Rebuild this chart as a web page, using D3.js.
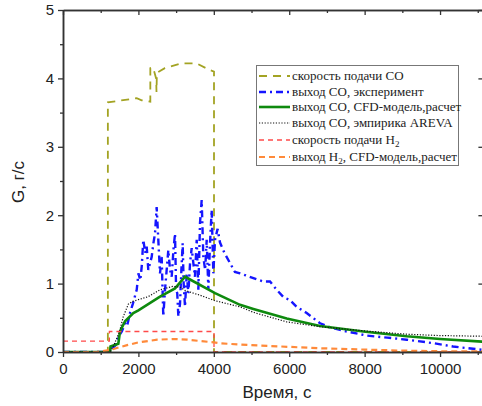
<!DOCTYPE html>
<html>
<head>
<meta charset="utf-8">
<script src="https://cdn.jsdelivr.net/npm/d3@7"></script>
<style>
  body { margin: 0; background: #fff; }
  svg { display: block; }
</style>
</head>
<body>
<div id="chart"></div>
<script>
// series, [time s, G g/s]
var coFeed = [[0,0],[1190,0],[1190,3.65],[1955,3.71],[2088,3.68],[2316,3.66],[2316,4.15],[2390,4.16],
  [2470,4.0],[2480,3.8],[2490,4.08],[2700,4.15],[3148,4.22],[3546,4.22],[3899,4.12],[4005,4.1],[4005,0],[11150,0]];
var coExp = [[0,0],[1250,0],[1300,0.05],[1400,0.1],[1467,0.22],[1560,0.3],[1645,0.42],[1700,0.38],[1777,0.57],
  [1850,0.7],[1955,0.91],[2000,1.15],[2050,1.05],[2088,1.25],[2130,1.64],[2180,1.45],[2220,1.54],[2262,1.2],
  [2352,1.39],[2400,1.6],[2440,1.73],[2484,2.12],[2528,1.64],[2573,1.15],[2617,1.39],[2660,0.52],[2706,0.91],
  [2793,1.49],[2840,1.2],[2883,1.1],[2930,1.5],[2971,1.73],[3000,0.91],[3030,0.86],[3059,0.52],[3103,0.7],
  [3140,1.2],[3174,1.59],[3200,1.0],[3236,0.66],[3281,1.15],[3325,0.86],[3370,1.3],[3413,1.52],[3457,1.3],
  [3500,1.1],[3546,1.64],[3590,0.91],[3634,1.89],[3678,2.22],[3722,1.39],[3770,1.2],[3811,1.64],[3855,0.91],
  [3900,1.6],[3943,2.08],[3987,1.15],[4032,1.64],[4100,1.8],[4164,1.6],[4280,1.45],[4430,1.3],[4560,1.17],
  [4695,1.15],[4850,1.12],[5049,1.08],[5314,1.03],[5491,1.03],[5668,0.91],[5850,0.8],[6021,0.76],[6198,0.66],
  [6463,0.57],[6817,0.42],[7082,0.36],[7524,0.3],[8055,0.24],[8600,0.21],[9117,0.18],[9814,0.13],[10345,0.08],
  [11150,0.03]];
var coCfd = [[0,0],[1250,0],[1260,0.08],[1467,0.12],[1512,0.3],[1645,0.45],[1865,0.57],[2000,0.61],[2573,0.81],
  [2971,0.93],[3236,1.1],[4032,0.86],[4695,0.69],[5049,0.63],[5933,0.49],[6817,0.38],[7966,0.3],[9117,0.23],
  [10000,0.19],[11150,0.15]];
var coAreva = [[0,0],[1250,0],[1350,0.1],[1500,0.3],[1600,0.52],[1733,0.7],[1850,0.74],[2262,0.81],[2573,0.91],
  [2918,0.96],[3100,0.95],[3236,0.9],[3634,0.83],[4032,0.75],[4695,0.66],[5049,0.58],[5933,0.44],[6817,0.37],
  [7966,0.31],[9117,0.26],[10000,0.24],[11150,0.23]];
var h2Feed = [[0,0.16],[1230,0.16],[1230,0.3],[4005,0.3],[4005,0],[11150,0]];
var h2Cfd = [[0,0],[900,0],[1250,0.03],[1500,0.07],[1700,0.1],[2000,0.14],[2500,0.18],[2920,0.19],[3300,0.18],
  [4000,0.14],[4164,0.127],[5000,0.1],[6000,0.075],[6817,0.055],[8000,0.035],[9000,0.02],[10345,0.008],[11150,0.01]];

var xTicks = [0, 2000, 4000, 6000, 8000, 10000];
var yTicks = [0, 1, 2, 3, 4, 5];

var series = [
  {data: coFeed,  label: ["скорость подачи CO"], color: "#a3a323", width: 1.8, dash: "8,6"},
  {data: coExp,   label: ["выход CO, эксперимент"], color: "#1515ff", width: 2.4, dash: "7,4,2,4"},
  {data: coCfd,   label: ["выход CO, CFD-модель,расчет"], color: "#0e8a0e", width: 2.6, dash: null},
  {data: coAreva, label: ["выход CO, эмпирика AREVA"], color: "#111", width: 1.2, dash: "1.2,1.6"},
  {data: h2Feed,  label: ["скорость подачи H", "2", ""], color: "#ff4a4a", width: 1.3, dash: "5,4"},
  {data: h2Cfd,   label: ["выход H", "2", ", CFD-модель,расчет"], color: "#ff8a3a", width: 2.2, dash: "6,4"}
];

var width = 482, height = 406;
var x = d3.scaleLinear().domain([0, 11150]).range([63, 483.4]);
var y = d3.scaleLinear().domain([0, 5]).range([352, 10]);

var svg = d3.select("#chart").append("svg")
  .attr("width", width)
  .attr("height", height);

svg.append("clipPath").attr("id", "plot")
  .append("rect")
  .attr("x", x(0)).attr("y", y(5))
  .attr("width", x(11150) - x(0)).attr("height", y(0) - y(5));

var line = d3.line()
  .x(function(d) { return x(d[0]); })
  .y(function(d) { return y(d[1]); });

// lines, drawn under the axes
var lines = svg.append("g").attr("clip-path", "url(#plot)");
lines.selectAll("path")
  .data(series).enter()
  .append("path")
  .attr("d", function(d) { return line(d.data); })
  .style("fill", "none")
  .style("stroke", function(d) { return d.color; })
  .style("stroke-width", function(d) { return d.width; })
  .style("stroke-dasharray", function(d) { return d.dash; });

// axes
var axisColor = "#333";
function styleAxis(g) {
  g.select(".domain").attr("stroke", axisColor).attr("stroke-width", 1.5);
  g.selectAll(".tick line").attr("stroke", axisColor).attr("stroke-width", 1.3);
  g.selectAll("text")
    .style("font-family", "'Liberation Sans', Arial, sans-serif")
    .style("font-size", "15px")
    .style("fill", "#222");
}

var minorX = d3.range(1000, 11001, 2000);
var minorY = d3.range(0.5, 5, 1);

svg.append("g")
  .attr("transform", "translate(0," + y(0) + ")")
  .call(d3.axisBottom(x).tickValues(xTicks).tickFormat(d3.format("d")).tickSize(5).tickSizeOuter(0).tickPadding(6))
  .call(styleAxis);
svg.append("g")
  .attr("transform", "translate(0," + y(0) + ")")
  .call(d3.axisBottom(x).tickValues(minorX).tickFormat("").tickSize(3).tickSizeOuter(0))
  .call(styleAxis);

svg.append("g")
  .attr("transform", "translate(" + x(0) + ",0)")
  .call(d3.axisLeft(y).tickValues(yTicks).tickFormat(d3.format("d")).tickSize(5).tickSizeOuter(0).tickPadding(4))
  .call(styleAxis);
svg.append("g")
  .attr("transform", "translate(" + x(0) + ",0)")
  .call(d3.axisLeft(y).tickValues(minorY).tickFormat("").tickSize(3).tickSizeOuter(0))
  .call(styleAxis);

// top and right frame, ticks inward
svg.append("g")
  .attr("transform", "translate(0," + y(5) + ")")
  .call(d3.axisBottom(x).tickValues(xTicks).tickFormat("").tickSize(5).tickSizeOuter(0))
  .call(styleAxis);
svg.append("g")
  .attr("transform", "translate(0," + y(5) + ")")
  .call(d3.axisBottom(x).tickValues(minorX).tickFormat("").tickSize(3).tickSizeOuter(0))
  .call(styleAxis);
svg.append("g")
  .attr("transform", "translate(" + x(11150) + ",0)")
  .call(d3.axisLeft(y).tickValues(yTicks).tickFormat("").tickSize(5).tickSizeOuter(0))
  .call(styleAxis);

// axis titles
svg.append("text")
  .attr("x", 277).attr("y", 398)
  .style("text-anchor", "middle")
  .style("font-family", "'Liberation Sans', Arial, sans-serif")
  .style("font-size", "17px")
  .style("fill", "#222")
  .text("Время, с");

svg.append("text")
  .attr("transform", "translate(24,182) rotate(-90)")
  .style("text-anchor", "middle")
  .style("font-family", "'Liberation Sans', Arial, sans-serif")
  .style("font-size", "17px")
  .style("fill", "#222")
  .text("G, г/с");

// legend
var legend = svg.append("g");
legend.append("rect")
  .attr("x", 256.5).attr("y", 65.5)
  .attr("width", 202).attr("height", 100)
  .style("fill", "#fff")
  .style("stroke", "#777")
  .style("stroke-width", 1);

var rowY = [76, 92, 107, 123, 140, 157];
var item = legend.selectAll("g.item")
  .data(series).enter()
  .append("g")
  .attr("class", "item")
  .attr("transform", function(d, i) { return "translate(0," + rowY[i] + ")"; });

item.append("line")
  .attr("x1", 259).attr("x2", 290)
  .style("stroke", function(d) { return d.color; })
  .style("stroke-width", function(d) { return d.width; })
  .style("stroke-dasharray", function(d) { return d.dash; });

var txt = item.append("text")
  .attr("x", 292).attr("y", 4)
  .style("font-family", "'Liberation Serif', 'Times New Roman', serif")
  .style("font-size", "13px")
  .style("fill", "#222");
txt.each(function(d) {
  var t = d3.select(this);
  t.append("tspan").text(d.label[0]);
  if (d.label.length > 1) {
    t.append("tspan").attr("dy", 3).style("font-size", "9px").text(d.label[1]);
    t.append("tspan").attr("dy", -3).text(d.label[2]);
  }
});
</script>
</body>
</html>
